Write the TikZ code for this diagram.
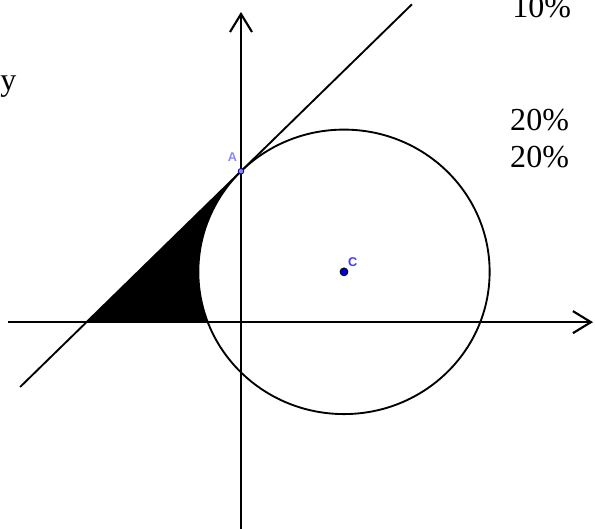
\documentclass[tikz,border=0pt]{standalone}
\usepackage{fontspec}
\setmainfont{Liberation Serif}
\newfontfamily\ggbfont{Liberation Sans}
\usepackage{tikz}
\usetikzlibrary{arrows.meta}
\definecolor{pointBlue}{RGB}{0,0,200}
\definecolor{labelBlue}{RGB}{60,60,255}
\definecolor{labelLight}{RGB}{135,135,255}
\tikzset{
  axisline/.style={line width=2pt, -{Straight Barb[length=13.5pt, width=16.5pt, line width=1.6pt]}},
  curveline/.style={line width=1.4pt, color=black},
  pctlabel/.style={anchor=base west, inner sep=0pt, font=\fontsize{24}{28}\selectfont},
  ptlabel/.style={inner sep=0pt, font=\ggbfont\bfseries\fontsize{9.5}{11}\selectfont}
}

\begin{document}
\begin{tikzpicture}[x=38.6pt, y=37.7pt]
        \useasboundingbox (-4.680,-4.098) rectangle (6.874,6.405);
        \coordinate (O) at (0,0);
        \coordinate (A) at (0,3);
        \coordinate (C) at (2,1);
        \coordinate (T) at (-3,0);
        \fill[black] (T) -- (A) arc[start angle=135, end angle=200.7, radius=2.828] -- cycle;
        \draw[curveline] (C) circle[radius=2.828];
        \draw[curveline] (-4.29,-1.29) -- (A) -- (3.32,6.32);
        \draw[axisline] (O |- 0,-4.3) -- (0,6.167);
        \draw[axisline] (-4.52,0) -- (6.835,0);
        \fill[labelLight, draw=pointBlue!70!black, line width=0.6pt] (A) circle[radius=2.1pt];
        \fill[pointBlue, draw=black, line width=0.5pt] (C) circle[radius=3pt];
        \node[ptlabel, text=labelLight] (lblA) at (-0.165,3.29) {A};
        \node[ptlabel, text=labelBlue] (lblC) at (2.17,1.2) {C};
        \node[pctlabel] (ylbl) at (-4.68,4.615) {y};
        \node[pctlabel] (p10) at (5.262,6.047) {10\%};
        \node[pctlabel] (p20a) at (5.223,3.819) {20\%};
        \node[pctlabel] (p20b) at (5.223,3.083) {20\%};
      \end{tikzpicture}
\end{document}
